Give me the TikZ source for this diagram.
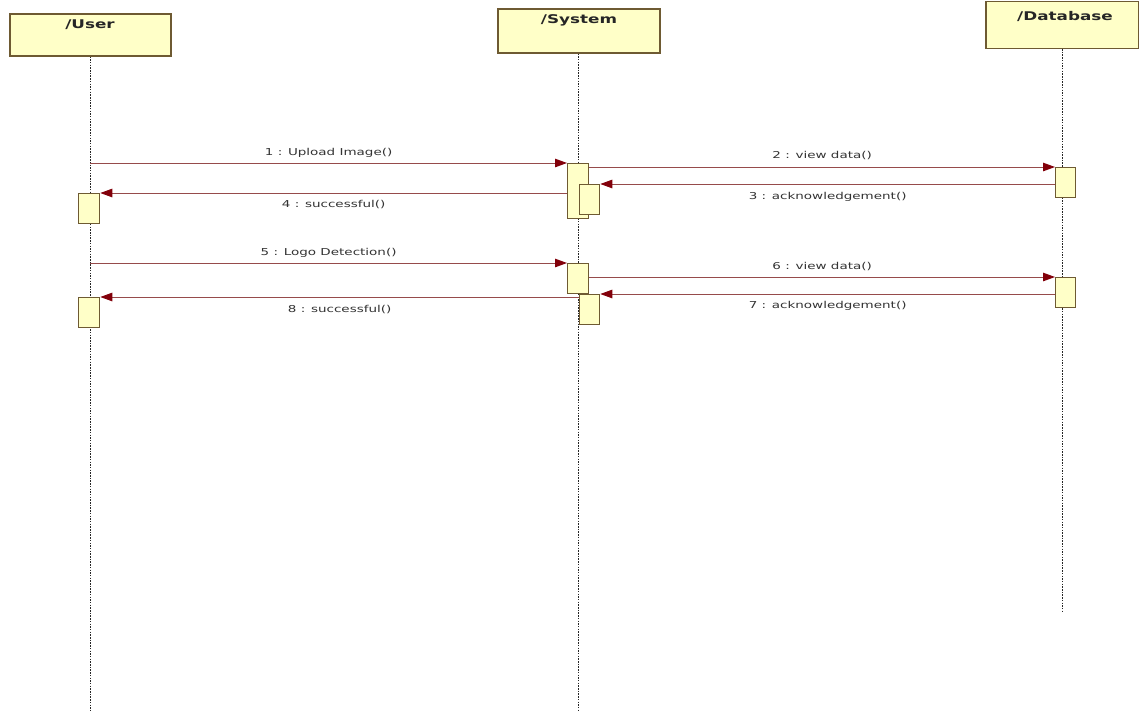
\documentclass[tikz,border=0pt]{standalone}
\usepackage{fontspec}
\setmainfont{DejaVu Sans}
\newfontfamily\hdrfont[FakeStretch=1.4]{DejaVu Sans}
\newfontfamily\msgfont[FakeStretch=1.42]{DejaVu Sans}
\usetikzlibrary{arrows.meta}
\definecolor{boxfill}{RGB}{255,255,200}
\definecolor{boxline}{RGB}{110,90,50}
\definecolor{msgline}{RGB}{150,75,75}
\definecolor{tipcol}{RGB}{130,0,10}
\tikzset{
  head/.style={draw=boxline, fill=boxfill, line width=1.5pt, anchor=north west, inner sep=0pt},
  act/.style={draw=boxline, fill=boxfill, line width=1.3pt, anchor=north west, inner sep=0pt, minimum width=21pt},
  life/.style={draw=black!85, line width=0.9pt, dash pattern=on 1.5pt off 1.2pt},
  msg/.style={draw=msgline, line width=1pt, -{Triangle[length=12pt,width=8.5pt,fill=tipcol,color=tipcol]}},
  lbl/.style={font=\msgfont\fontsize{9.5}{11}\selectfont, text=black!80, inner sep=0pt},
  htxt/.style={font=\hdrfont\bfseries\fontsize{12}{14}\selectfont, text=black!85, inner sep=0pt},
}
\begin{document}
\begin{tikzpicture}[x=1pt,y=-1pt]
\useasboundingbox[fill=white] (0,0) rectangle (1139,712);
\coordinate (bot) at (0,712);
\coordinate (dbend) at (0,612);
% heads
\node[head, minimum width=161pt, minimum height=42pt] (user) at (9,13) {};
\node[head, minimum width=162pt, minimum height=44pt] (system) at (497,8) {};
\node[head, minimum width=153pt, minimum height=47pt] (db) at (985,0.5) {};
\node[htxt] (userT) at (90,25) {/User};
\node[htxt] (systemT) at (579,20) {/System};
\node[htxt] (dbT) at (1065,16) {/Database};
% lifelines
\draw[life] (user.south) -- (user.south |- bot);
\draw[life] (system.south) -- (system.south |- bot);
\draw[life] (db.south) -- (db.south |- dbend);
% activations
\node[act, minimum height=30pt] (u1) at (78,193) {};
\node[act, minimum height=30pt] (u2) at (78,297) {};
\node[act, minimum height=55pt] (s1) at (567,163) {};
\node[act, minimum width=20pt, minimum height=30pt] (s2) at (579,184) {};
\node[act, minimum height=30pt] (s3) at (567,263) {};
\node[act, minimum width=20pt, minimum height=30pt] (s4) at (579,294) {};
\node[act, minimum width=20pt, minimum height=30pt] (d1) at (1055,167) {};
\node[act, minimum width=20pt, minimum height=30pt] (d2) at (1055,277) {};
% messages
\draw[msg] (s1.north west -| user) -- node[lbl, midway, yshift=10pt] (l1) {1 : Upload Image()} (s1.north west);
\draw[msg] (d1.north west -| s1.east) -- node[lbl, midway, yshift=11pt] (l2) {2 : view data()} (d1.north west);
\draw[msg] (s2.north east -| d1.west) -- node[lbl, midway, yshift=-13pt] (l3) {3 : acknowledgement()} (s2.north east);
\draw[msg] (u1.north east -| s1.west) -- node[lbl, midway, yshift=-12pt] (l4) {4 : successful()} (u1.north east);
\draw[msg] (s3.north west -| user) -- node[lbl, midway, yshift=10pt] (l5) {5 : Logo Detection()} (s3.north west);
\draw[msg] (d2.north west -| s3.east) -- node[lbl, midway, yshift=10pt] (l6) {6 : view data()} (d2.north west);
\draw[msg] (s4.north east -| d2.west) -- node[lbl, midway, yshift=-12pt] (l7) {7 : acknowledgement()} (s4.north east);
\draw[msg] (u2.north east -| s4.west) -- node[lbl, midway, yshift=-13pt] (l8) {8 : successful()} (u2.north east);
\end{tikzpicture}
\end{document}
